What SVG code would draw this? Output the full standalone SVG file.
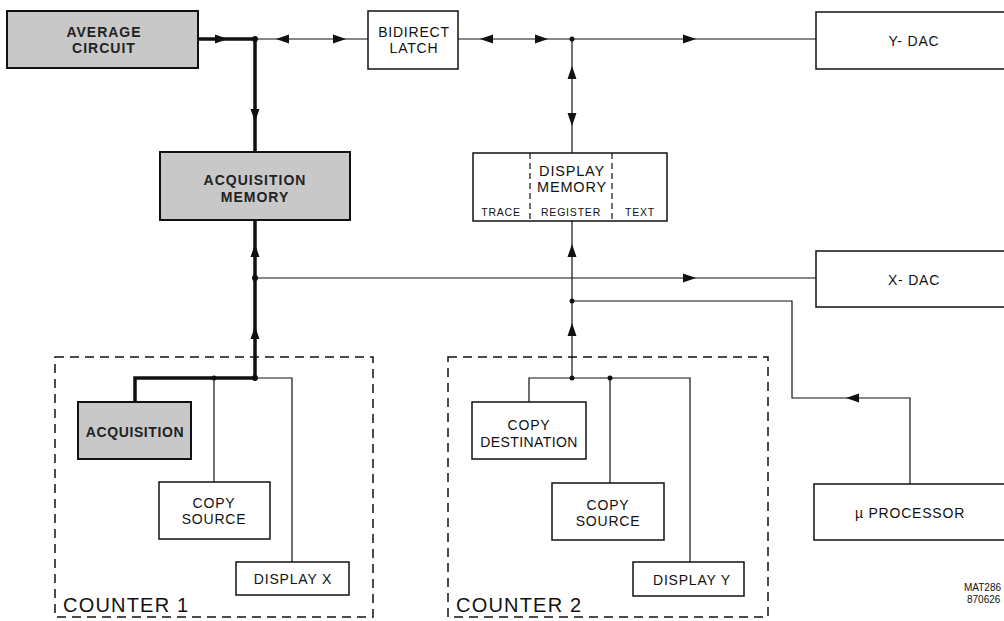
<svg xmlns="http://www.w3.org/2000/svg" width="1004" height="621" viewBox="0 0 1004 621">
<style>
.box{fill:#fff;stroke:#111;stroke-width:1.5}
.gbox{fill:#c8c8c8;stroke:#111;stroke-width:2}
.t{font-family:"Liberation Sans",Arial,sans-serif;font-size:14px;fill:#111;text-anchor:middle;letter-spacing:0.8px}
.tb{font-family:"Liberation Sans",Arial,sans-serif;font-size:14px;font-weight:bold;fill:#222;text-anchor:middle;letter-spacing:1px}
.ts{font-family:"Liberation Sans",Arial,sans-serif;font-size:10.5px;fill:#111;text-anchor:middle;letter-spacing:0.8px}
.tc{font-family:"Liberation Sans",Arial,sans-serif;font-size:20px;fill:#111;letter-spacing:1.2px}
.tm{font-family:"Liberation Sans",Arial,sans-serif;font-size:10px;fill:#111}
.thin{fill:none;stroke:#111;stroke-width:1.2}
.thick{fill:none;stroke:#111;stroke-width:3.5}
.dash{fill:none;stroke:#111;stroke-width:1.5;stroke-dasharray:9,6}
.dsh{fill:none;stroke:#111;stroke-width:1.2;stroke-dasharray:6,4}
.dot{fill:#111}
</style>
<defs>
<path id="ar" d="M0,0 L-13,-4.5 L-13,4.5 Z" fill="#111"/>
</defs>
<rect width="1004" height="621" fill="#fff"/>

<g id="connectors">
<path class="thick" d="M198,39 H255 V152"/>
<path class="thin" d="M255,39 H368"/>
<path class="thin" d="M458,39 H816"/>
<path class="thin" d="M572,39 V153"/>
<path class="thick" d="M255,220 V378 H135 V402"/>
<path class="thin" d="M255,278 H816"/>
<path class="thin" d="M214,378 V482"/>
<path class="thin" d="M255,378 H292 V562"/>
<path class="thin" d="M572,221 V378"/>
<path class="thin" d="M572,301 H792 V398 H910 V484"/>
<path class="thin" d="M529,402 V378 H690 V562"/>
<path class="thin" d="M610,378 V483"/>
<use href="#ar" transform="translate(228,39)"/>
<use href="#ar" transform="translate(276,39) rotate(180)"/>
<use href="#ar" transform="translate(346,39)"/>
<use href="#ar" transform="translate(480,39) rotate(180)"/>
<use href="#ar" transform="translate(548,39)"/>
<use href="#ar" transform="translate(696,39)"/>
<use href="#ar" transform="translate(255,122) rotate(90)"/>
<use href="#ar" transform="translate(572,66) rotate(-90)"/>
<use href="#ar" transform="translate(572,126) rotate(90)"/>
<use href="#ar" transform="translate(255,244) rotate(-90)"/>
<use href="#ar" transform="translate(255,326) rotate(-90)"/>
<use href="#ar" transform="translate(572,244) rotate(-90)"/>
<use href="#ar" transform="translate(572,323) rotate(-90)"/>
<use href="#ar" transform="translate(696,278)"/>
<use href="#ar" transform="translate(846,398) rotate(180)"/>
<circle class="dot" cx="255" cy="39" r="3"/>
<circle class="dot" cx="572" cy="39" r="2.5"/>
<circle class="dot" cx="255" cy="278" r="3"/>
<circle class="dot" cx="255" cy="378" r="3"/>
<circle class="dot" cx="214" cy="378" r="2.5"/>
<circle class="dot" cx="572" cy="301" r="2.5"/>
<circle class="dot" cx="572" cy="378" r="2.5"/>
<circle class="dot" cx="610" cy="378" r="2.5"/>
</g>

<g id="average-circuit">
<rect class="gbox" x="7" y="11" width="191" height="57"/>
<text class="tb" x="104" y="37">AVERAGE</text>
<text class="tb" x="104" y="53">CIRCUIT</text>
</g>

<g id="bidirect-latch">
<rect class="box" x="368" y="11" width="90" height="58"/>
<text class="t" x="414" y="37">BIDIRECT</text>
<text class="t" x="414" y="53">LATCH</text>
</g>

<g id="y-dac">
<rect class="box" x="816" y="12" width="200" height="57"/>
<text class="t" x="914" y="46">Y- DAC</text>
</g>

<g id="acquisition-memory">
<rect class="gbox" x="160" y="152" width="190" height="68"/>
<text class="tb" x="255" y="185">ACQUISITION</text>
<text class="tb" x="255" y="202">MEMORY</text>
</g>

<g id="display-memory">
<rect class="box" x="473" y="153" width="194" height="68"/>
<line class="dsh" x1="530" y1="153" x2="530" y2="221"/>
<line class="dsh" x1="612" y1="153" x2="612" y2="221"/>
<text class="t" x="572" y="176" style="font-size:14.5px">DISPLAY</text>
<text class="t" x="572" y="192" style="font-size:14.5px">MEMORY</text>
<text class="ts" x="501" y="216">TRACE</text>
<text class="ts" x="571" y="216">REGISTER</text>
<text class="ts" x="640" y="216">TEXT</text>
</g>

<g id="x-dac">
<rect class="box" x="816" y="251" width="200" height="56"/>
<text class="t" x="914" y="285">X- DAC</text>
</g>

<g id="counter-1">
<rect class="dash" x="55" y="357" width="318" height="260"/>
<text class="tc" x="63" y="612">COUNTER 1</text>
</g>

<g id="acquisition">
<rect class="gbox" x="78" y="402" width="113" height="57"/>
<text class="tb" x="135" y="437" style="letter-spacing:0.6px">ACQUISITION</text>
</g>

<g id="copy-source-1">
<rect class="box" x="159" y="482" width="111" height="57"/>
<text class="t" x="214" y="508">COPY</text>
<text class="t" x="214" y="524">SOURCE</text>
</g>

<g id="display-x">
<rect class="box" x="236" y="562" width="113" height="33"/>
<text class="t" x="293" y="584">DISPLAY X</text>
</g>

<g id="counter-2">
<rect class="dash" x="448" y="357" width="320" height="260"/>
<text class="tc" x="456" y="612">COUNTER 2</text>
</g>

<g id="copy-destination">
<rect class="box" x="472" y="402" width="114" height="57"/>
<text class="t" x="529" y="430">COPY</text>
<text class="t" x="529" y="447" style="letter-spacing:0.4px">DESTINATION</text>
</g>

<g id="copy-source-2">
<rect class="box" x="552" y="483" width="112" height="57"/>
<text class="t" x="608" y="510">COPY</text>
<text class="t" x="608" y="526">SOURCE</text>
</g>

<g id="display-y">
<rect class="box" x="633" y="562" width="111" height="34"/>
<text class="t" x="692" y="585">DISPLAY Y</text>
</g>

<g id="processor">
<rect class="box" x="814" y="484" width="200" height="56"/>
<text class="t" x="910" y="518">µ PROCESSOR</text>
</g>

<text class="tm" x="964" y="591">MAT286</text>
<text class="tm" x="967" y="603">870626</text>
</svg>
